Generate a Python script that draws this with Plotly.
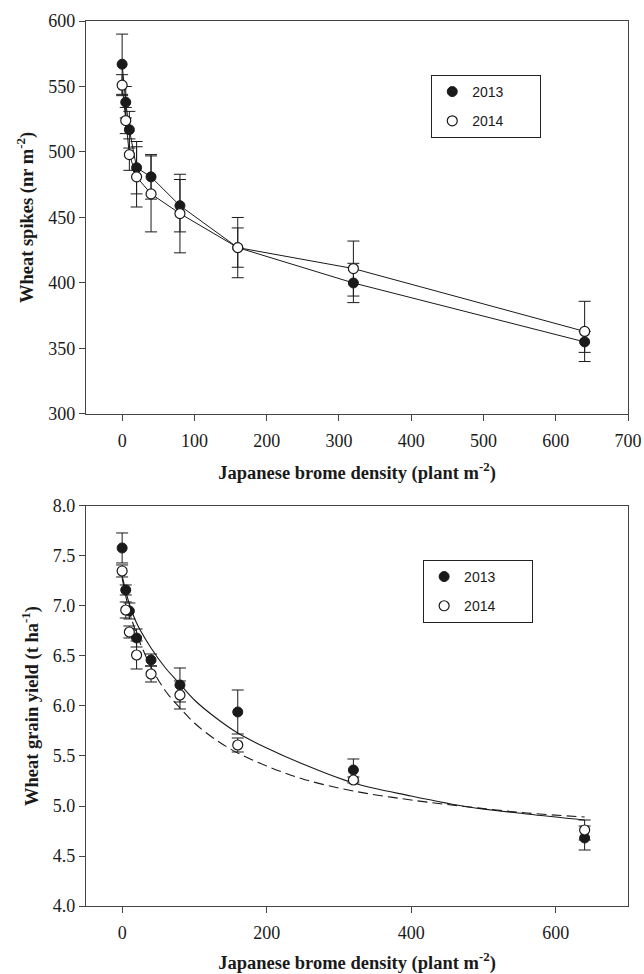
import plotly.graph_objects as go

# ---- data ----
density = [0, 5, 10, 20, 40, 80, 160, 320, 640]

spikes_2013 = [567, 538, 517, 488, 481, 459, 427, 400, 355]
spikes_2013_err = [23, 12, 14, 20, 17, 20, 23, 15, 8]
spikes_2014 = [551, 524, 498, 481, 468, 453, 427, 411, 363]
spikes_2014_err = [8, 10, 12, 23, 29, 30, 15, 21, 23]

yield_2013 = [7.58, 7.16, 6.95, 6.68, 6.46, 6.21, 5.94, 5.36, 4.68]
yield_2013_err = [0.15, 0.05, 0.08, 0.09, 0.06, 0.17, 0.22, 0.11, 0.12]
yield_2014 = [7.35, 6.96, 6.74, 6.51, 6.32, 6.11, 5.61, 5.26, 4.76]
yield_2014_err = [0.06, 0.08, 0.06, 0.14, 0.08, 0.14, 0.07, 0.03, 0.10]

fit_x = [0, 5, 10, 20, 40, 60, 80, 100, 130, 160, 200, 250, 320, 400, 480, 560, 640]
fit_2013 = [7.30, 7.15, 7.02, 6.83, 6.58, 6.38, 6.22, 6.06, 5.88, 5.73, 5.58, 5.42, 5.23, 5.10, 4.99, 4.92, 4.86]
fit_2014 = [7.28, 7.10, 6.95, 6.72, 6.39, 6.15, 5.98, 5.83, 5.66, 5.53, 5.40, 5.27, 5.15, 5.06, 4.99, 4.93, 4.89]

years = ["2013", "2014"]
spike_ticks = [300, 350, 400, 450, 500, 550, 600]
yield_ticks = [4.0, 4.5, 5.0, 5.5, 6.0, 6.5, 7.0, 7.5, 8.0]
top_xticks = [0, 100, 200, 300, 400, 500, 600, 700]
bot_xticks = [0, 200, 400, 600]

SERIF = "'Liberation Serif', 'Times New Roman', Times, serif"
SANS = "'Liberation Sans', Arial, sans-serif"
INK = "#1a1a1a"
PAD = "\u00a0" * 8  # widens the legend box like the reference

filled = dict(size=10, color=INK, line=dict(color=INK, width=1))
hollow = dict(size=10, color="white", line=dict(color=INK, width=1.2))

def err(vals):
    return dict(type="data", array=vals, visible=True, color=INK, thickness=1, width=6)

fig = go.Figure()

# ---- top panel ----
fig.add_trace(go.Scatter(x=density, y=spikes_2013, mode="lines+markers",
                         line=dict(color=INK, width=1), marker=filled,
                         error_y=err(spikes_2013_err), showlegend=False,
                         xaxis="x", yaxis="y"))
fig.add_trace(go.Scatter(x=density, y=spikes_2014, mode="lines+markers",
                         line=dict(color=INK, width=1), marker=hollow,
                         error_y=err(spikes_2014_err), showlegend=False,
                         xaxis="x", yaxis="y"))
fig.add_trace(go.Scatter(x=[None], y=[None], mode="markers", marker=filled,
                         name=years[0] + PAD, legend="legend", legendgroup="a",
                         xaxis="x", yaxis="y"))
fig.add_trace(go.Scatter(x=[None], y=[None], mode="markers", marker=hollow,
                         name=years[1] + PAD, legend="legend", legendgroup="b",
                         xaxis="x", yaxis="y"))

# ---- bottom panel ----
fig.add_trace(go.Scatter(x=fit_x, y=fit_2013, mode="lines",
                         line=dict(color=INK, width=1.1, shape="spline"),
                         showlegend=False, xaxis="x2", yaxis="y2"))
fig.add_trace(go.Scatter(x=fit_x, y=fit_2014, mode="lines",
                         line=dict(color=INK, width=1.1, shape="spline", dash="10px,5px"),
                         showlegend=False, xaxis="x2", yaxis="y2"))
fig.add_trace(go.Scatter(x=density, y=yield_2013, mode="markers", marker=filled,
                         error_y=err(yield_2013_err), showlegend=False,
                         xaxis="x2", yaxis="y2"))
fig.add_trace(go.Scatter(x=density, y=yield_2014, mode="markers", marker=hollow,
                         error_y=err(yield_2014_err), showlegend=False,
                         xaxis="x2", yaxis="y2"))
fig.add_trace(go.Scatter(x=[None], y=[None], mode="markers", marker=filled,
                         name=years[0] + PAD, legend="legend2", legendgroup="c",
                         xaxis="x2", yaxis="y2"))
fig.add_trace(go.Scatter(x=[None], y=[None], mode="markers", marker=hollow,
                         name=years[1] + PAD, legend="legend2", legendgroup="d",
                         xaxis="x2", yaxis="y2"))

axis_common = dict(showline=True, linecolor="#444", linewidth=1.3, mirror=True,
                   ticks="outside", ticklen=6, tickcolor="#444", tickwidth=1,
                   showgrid=False, zeroline=False, ticklabeloverflow="allow",
                   tickfont=dict(family=SERIF, size=18, color=INK))

title_font = dict(family=SERIF, size=18.5, color=INK)
xtitle = "<b>Japanese brome density (plant m<sup>-2</sup>)</b>"

legend_common = dict(xanchor="left", yanchor="top",
                     bordercolor="#222", borderwidth=1, bgcolor="white",
                     font=dict(family=SANS, size=14, color=INK),
                     tracegroupgap=8, itemwidth=30)

fig.update_layout(
    width=644, height=974,
    margin=dict(l=86, r=2, t=21, b=66),
    plot_bgcolor="white", paper_bgcolor="white",
    xaxis=dict(axis_common, domain=[0, 1], anchor="y", range=[-50, 700],
               tickvals=top_xticks, ticklabelstandoff=4,
               title=dict(text=xtitle, font=title_font, standoff=16)),
    yaxis=dict(axis_common, domain=[0.556, 1], anchor="x", range=[300, 600],
               tickvals=spike_ticks,
               title=dict(text="<b>Wheat spikes (nr m<sup>-2</sup>)</b>",
                          font=title_font, standoff=9)),
    xaxis2=dict(axis_common, domain=[0, 1], anchor="y2", range=[-50, 700],
                tickvals=bot_xticks, ticklabelstandoff=4,
                title=dict(text=xtitle, font=title_font, standoff=16)),
    yaxis2=dict(axis_common, domain=[0, 0.452], anchor="x2", range=[4.0, 8.0],
                tickvals=yield_ticks, tickformat=".1f",
                title=dict(text="<b>Wheat grain yield (t ha<sup>-1</sup>)</b>",
                           font=title_font, standoff=9)),
    legend=dict(legend_common, x=0.637, y=0.939),
    legend2=dict(legend_common, x=0.622, y=0.391),
)

fig.write_html("out.html")
